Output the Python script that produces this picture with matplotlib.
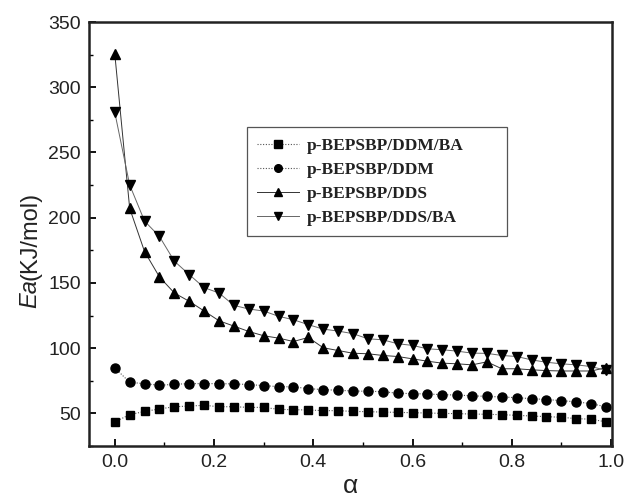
import matplotlib
matplotlib.use("Agg")
import matplotlib.pyplot as plt
from matplotlib.ticker import MultipleLocator
from matplotlib.offsetbox import TextArea, VPacker, AnchoredOffsetbox

alpha = [0.00, 0.03, 0.06, 0.09, 0.12, 0.15, 0.18, 0.21, 0.24, 0.27, 0.30, 0.33,
         0.36, 0.39, 0.42, 0.45, 0.48, 0.51, 0.54, 0.57, 0.60, 0.63, 0.66, 0.69,
         0.72, 0.75, 0.78, 0.81, 0.84, 0.87, 0.90, 0.93, 0.96, 0.99]

ddm_ba = [43.5, 49.0, 51.5, 53.4, 55.1, 55.6, 56.2, 55.1, 55.1, 54.6, 54.6, 53.1,
          52.8, 52.6, 52.1, 52.1, 51.5, 51.3, 51.0, 50.8, 50.5, 50.3, 50.0, 49.8,
          49.5, 49.3, 49.0, 48.5, 48.0, 47.5, 47.0, 46.0, 45.5, 43.5]

ddm = [84.9, 73.8, 72.8, 71.5, 72.3, 72.8, 72.8, 72.8, 72.6, 72.1, 71.3, 70.5,
       70.3, 69.0, 68.2, 67.7, 67.2, 66.9, 66.7, 65.4, 65.2, 64.8, 64.4, 64.0,
       63.5, 63.0, 62.6, 62.0, 61.3, 60.6, 59.8, 58.8, 57.5, 55.0]

dds = [325.5, 207.2, 174.0, 154.6, 142.3, 135.9, 128.5, 121.0, 116.9, 112.8, 109.5, 107.7,
       105.1, 108.2, 100.3, 98.2, 96.1, 95.7, 94.4, 93.6, 91.8, 90.0, 88.5, 88.0,
       87.2, 89.5, 84.2, 84.2, 83.4, 82.8, 82.5, 82.5, 82.5, 85.0]

dds_ba = [280.7, 225.1, 197.4, 185.6, 166.7, 156.4, 146.4, 142.3, 132.8, 130.0, 128.5, 124.4,
          121.8, 118.0, 114.6, 113.1, 111.1, 107.2, 106.4, 103.4, 102.1, 99.5, 98.8, 97.7,
          96.2, 96.0, 94.4, 93.6, 91.0, 89.2, 88.0, 87.2, 85.9, 83.0]

labels = ["p-BEPSBP/DDM/BA", "p-BEPSBP/DDM", "p-BEPSBP/DDS", "p-BEPSBP/DDS/BA"]
xticks = [0.0, 0.2, 0.4, 0.6, 0.8, 1.0]
xticklabels = ['0.0', '0.2', '0.4', '0.6', '0.8', '1.0']
yticks = [50, 100, 150, 200, 250, 300, 350]

plt.rcParams['font.family'] = ['Liberation Sans', 'DejaVu Sans']

fig = plt.figure(figsize=(6.28, 5.0), dpi=100)
ax = fig.add_axes([0.1417, 0.108, 0.8328, 0.848])

lc = '#555555'
ax.plot(alpha, ddm_ba, linestyle=(0, (1, 1.5)), color=lc, linewidth=0.8,
        marker='s', markersize=5.5, markerfacecolor='black', markeredgecolor='black', label=labels[0])
ax.plot(alpha, ddm, linestyle=(0, (1, 1.5)), color=lc, linewidth=0.8,
        marker='o', markersize=6.5, markerfacecolor='black', markeredgecolor='black', label=labels[1])
ax.plot(alpha, dds, linestyle='-', color='#333333', linewidth=0.7,
        marker='^', markersize=7.5, markerfacecolor='black', markeredgecolor='black', label=labels[2])
ax.plot(alpha, dds_ba, linestyle='-', color='#666666', linewidth=0.7,
        marker='v', markersize=7.5, markerfacecolor='black', markeredgecolor='black', label=labels[3])

ax.set_xlim(-0.052, 1.002)
ax.set_ylim(25, 350)
ax.set_xticks(xticks)
ax.set_xticklabels(xticklabels)
ax.xaxis.set_minor_locator(MultipleLocator(0.1))
ax.set_yticks(yticks)
ax.yaxis.set_minor_locator(MultipleLocator(25))
ax.tick_params(axis='both', which='major', direction='in', length=5, width=1.3,
               labelsize=14, top=False, right=False, pad=6, labelcolor='#222222')
ax.tick_params(axis='both', which='minor', direction='in', length=3, width=1.0,
               top=False, right=False)

for s in ax.spines.values():
    s.set_linewidth(1.8)
    s.set_color('#222222')

ax.set_xlabel('α', fontsize=19, labelpad=2, color='#222222')

# y-label with italic "Ea"
t1 = TextArea('Ea', textprops=dict(fontsize=17, style='italic', rotation=90, color='#222222'))
t2 = TextArea('(KJ/mol)', textprops=dict(fontsize=17, rotation=90, color='#222222'))
box = VPacker(children=[t2, t1], align='center', pad=0, sep=0)
anch = AnchoredOffsetbox(loc='center', child=box, frameon=False,
                         bbox_to_anchor=(0.048, 0.50), bbox_transform=fig.transFigure,
                         borderpad=0, pad=0)
fig.add_artist(anch)

leg = ax.legend(loc='upper left', bbox_to_anchor=(0.302, 0.45, 0.497, 0.3017), mode='expand',
                frameon=True, fancybox=False, edgecolor='#555555', framealpha=1,
                prop={'family': 'Liberation Serif', 'weight': 'bold', 'size': 12.5},
                handlelength=2.4, handletextpad=0.45, borderpad=0.6, labelspacing=0.45,
                borderaxespad=0)
leg.get_frame().set_linewidth(0.9)
for h in leg.legend_handles:
    h.set_markersize(5.5)
for t in leg.get_texts():
    t.set_color('#222222')

fig.savefig('out.png', dpi=100)
